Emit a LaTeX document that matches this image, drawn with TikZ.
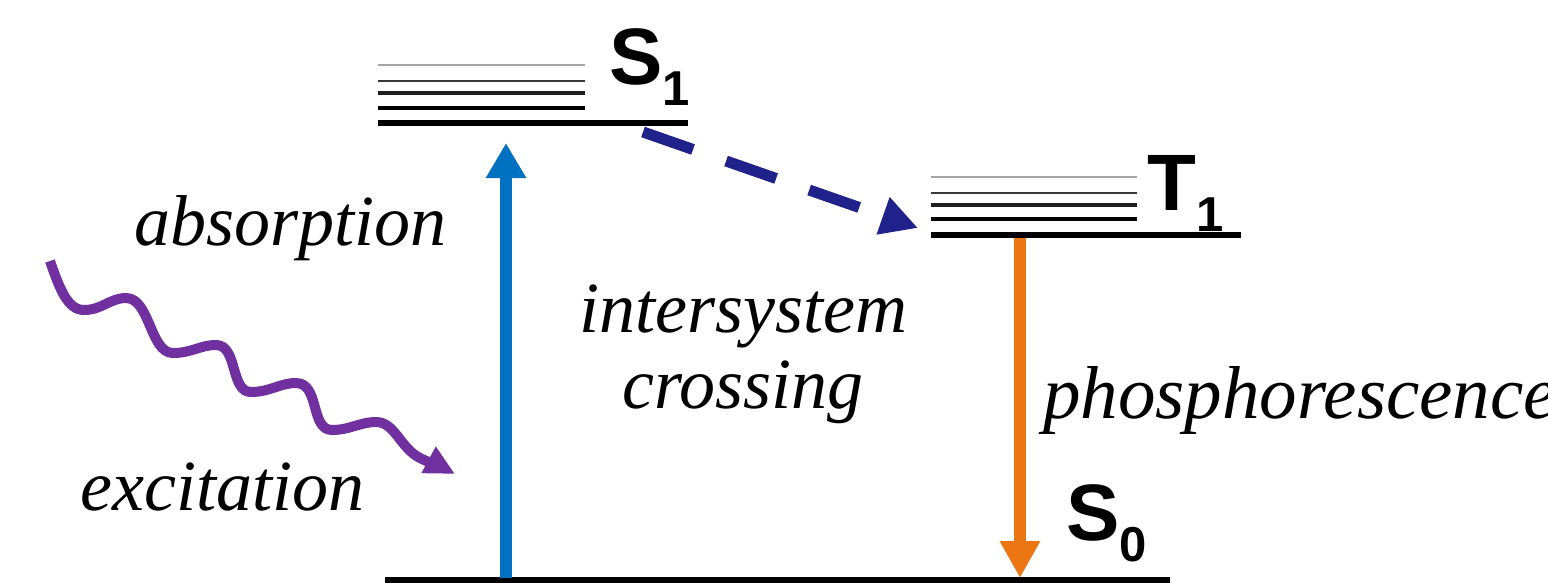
\documentclass[tikz,border=0pt]{standalone}
\usepackage{fontspec}
\setmainfont{Liberation Serif}
\newfontfamily\statefont{Liberation Sans}
\usetikzlibrary{arrows.meta}
\definecolor{absblue}{RGB}{0,112,192}
\definecolor{phosorange}{RGB}{237,118,20}
\definecolor{iscnavy}{RGB}{33,33,139}
\definecolor{photonpurple}{RGB}{112,48,160}
\newcommand{\lvlsub}[1]{\raisebox{-21pt}{\fontsize{49}{49}\selectfont #1}}
\tikzset{
  proc/.style={font=\fontsize{72}{76}\selectfont\itshape, inner sep=0pt},
  statelabel/.style={font=\statefont\bfseries\fontsize{80}{80}\selectfont, inner sep=0pt, anchor=base west},
  vibA/.style={line width=1.8pt, draw=black!35},
  vibB/.style={line width=2.2pt, draw=black!78},
  vibC/.style={line width=3.2pt, draw=black!88},
  vibD/.style={line width=4.5pt, draw=black},
  groundlvl/.style={line width=6pt, draw=black},
  absorb/.style={line width=12pt, draw=absblue, -{Triangle[length=35pt,width=38pt]}},
  emit/.style={line width=12pt, draw=phosorange, -{Triangle[length=37pt,width=38pt]}},
  isc/.style={line width=11pt, draw=iscnavy, dash pattern=on 53pt off 35pt, -{Triangle[length=37pt,width=37pt]}},
  photon/.style={line width=10pt, draw=photonpurple, -{Triangle[length=30pt,width=28pt]}}
}
\begin{document}
\begin{tikzpicture}[x=1pt,y=-1pt]
\useasboundingbox (0,0) rectangle (1548,582);
\clip (0,0) rectangle (1548,582);

% S1 manifold
\draw[vibA] (378,65) -- (585,65);
\draw[vibB] (378,81) -- (585,81);
\draw[vibC] (378,93) -- (585,93);
\draw[vibD] (378,108) -- (585,108);
\draw[groundlvl] (378,123) -- (688,123);
\node[statelabel] (s1lab) at (609,84) {S\lvlsub{1}};

% T1 manifold
\draw[vibA] (931,177) -- (1137,177);
\draw[vibB] (931,193) -- (1137,193);
\draw[vibC] (931,205) -- (1137,205);
\draw[vibD] (931,219) -- (1137,219);
\draw[groundlvl] (931,235) -- (1241,235);
\node[statelabel] (t1lab) at (1147,210) {T\lvlsub{1}};

% S0 ground state
\draw[groundlvl] (385,580) -- (1170,580);
\node[statelabel] (s0lab) at (1066,540) {S\lvlsub{0}};

% transition end points
\coordinate (absfoot) at (506,578);
\coordinate (abstop) at (506,143);
\coordinate (iscstart) at (643,132);
\coordinate (iscend) at (918,228);
\coordinate (phosstart) at (1020,238);
\coordinate (phosend) at (1020,578);
\coordinate (photonstart) at (50,261);
\coordinate (photonend) at (455,474);

\draw[absorb] (absfoot) -- (abstop);
\draw[emit] (phosstart) -- (phosend);
\draw[isc] (iscstart) -- (iscend);

% incoming photon: four wiggles, then a bend into the arrow head
\draw[photon] (photonstart)
  .. controls (60,290) and (68,310) .. (84,310)
  .. controls (102,310) and (110,298) .. (126,298)
  .. controls (150,298) and (150,353) .. (173,353)
  .. controls (192,353) and (200,345) .. (216,345)
  .. controls (238,345) and (230,392) .. (251,392)
  .. controls (270,392) and (280,383) .. (296,383)
  .. controls (320,383) and (310,430) .. (332,430)
  .. controls (350,430) and (360,422) .. (376,422)
  .. controls (395,422) and (400,448) .. (420,458)
  .. controls (432,464) and (442,467) .. (photonend);

% process labels
\node[proc, anchor=base west] (abslab) at (134,245) {absorption};
\node[proc, anchor=base] (isctop) at (743,332) {intersystem};
\node[proc, anchor=base] (iscbot) at (743,408) {crossing};
\node[proc, anchor=base west] (exclab) at (80,510) {excitation};
\node[proc, anchor=base west, font=\fontsize{75}{76}\selectfont\itshape] (phoslab) at (1043,418) {phosphorescence};
\end{tikzpicture}
\end{document}
